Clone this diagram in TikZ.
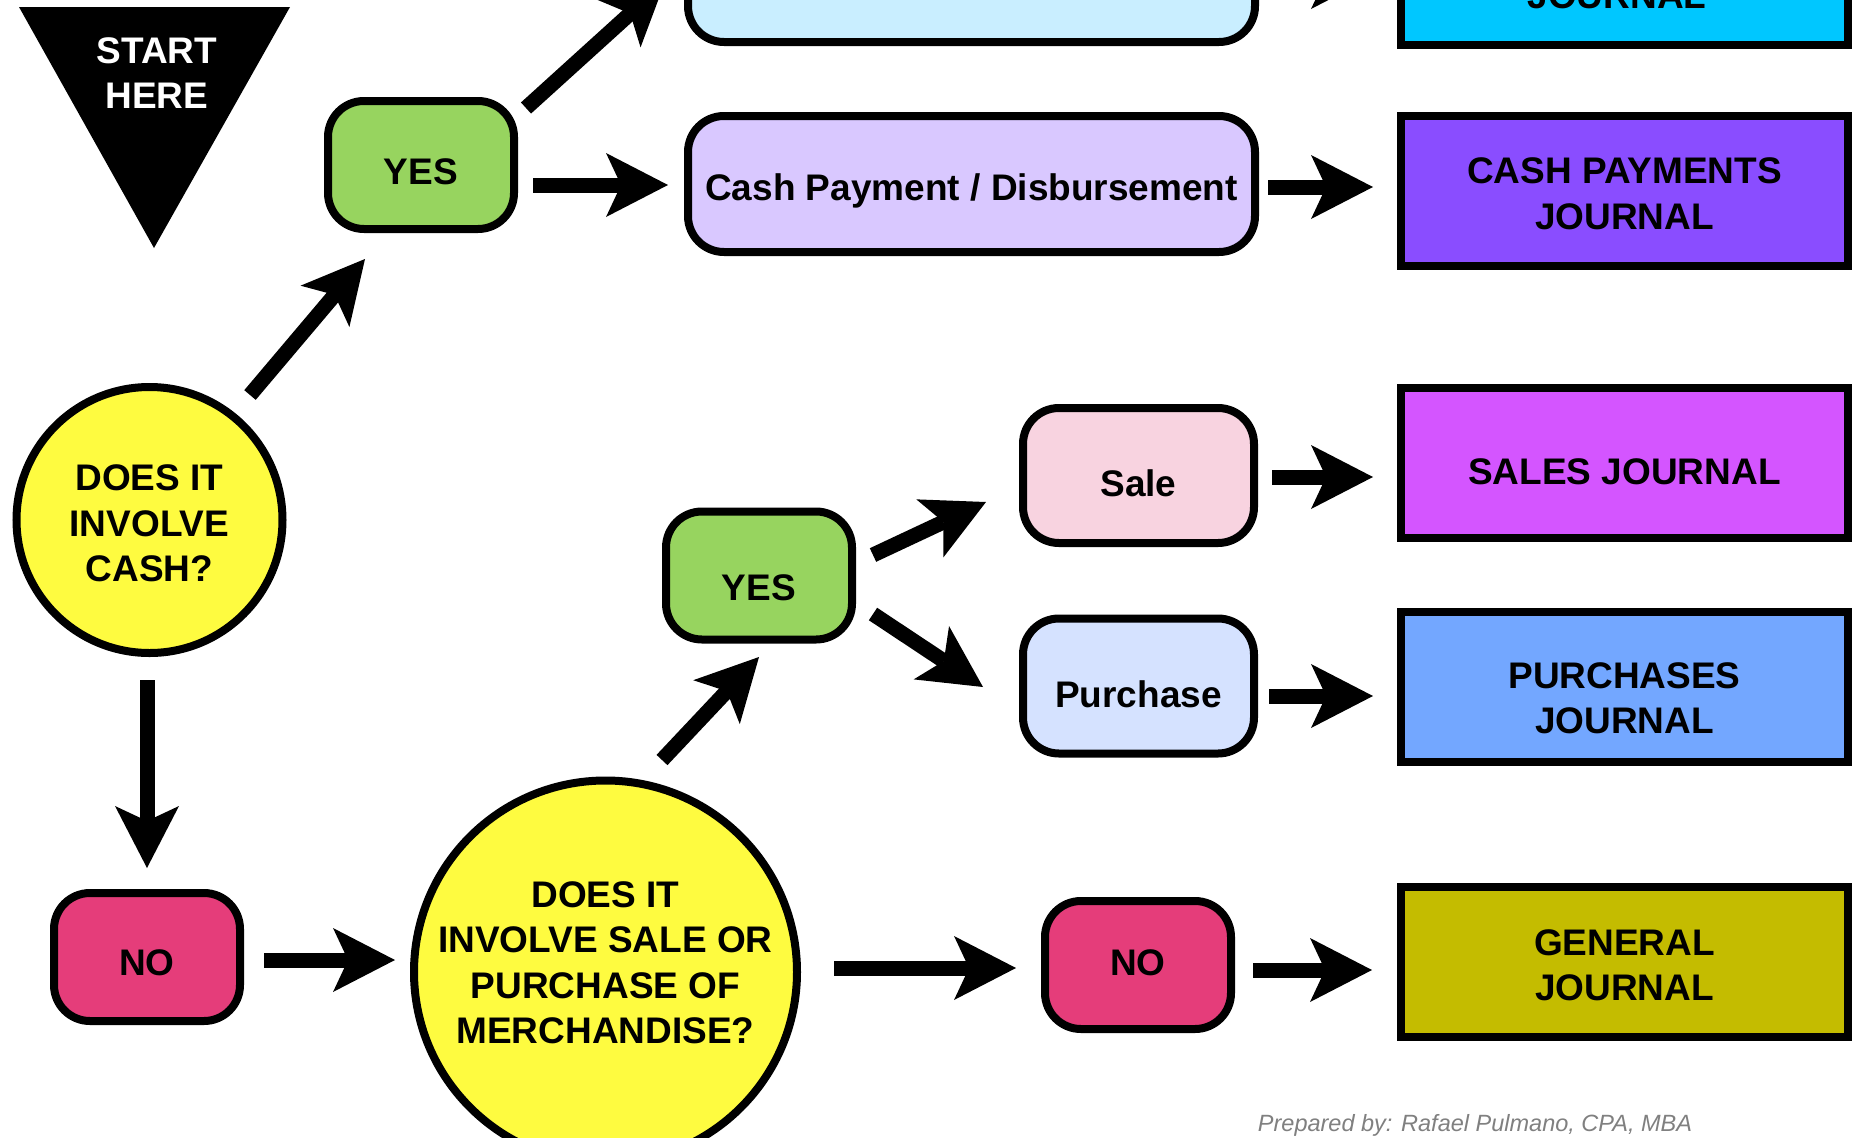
\documentclass[tikz,border=0pt]{standalone}
\usepackage{fontspec}
\setmainfont{Liberation Sans}
\usetikzlibrary{arrows.meta}
\definecolor{qyellow}{HTML}{FEFB40}
\definecolor{qgreen}{HTML}{97D45F}
\definecolor{qred}{HTML}{E53D7A}
\definecolor{qlav}{HTML}{D9C8FF}
\definecolor{qlblue}{HTML}{C9EEFF}
\definecolor{qpurple}{HTML}{8A4DFF}
\definecolor{qcyan}{HTML}{00C7FF}
\definecolor{qpink}{HTML}{F8D3E0}
\definecolor{qpblue}{HTML}{D5E2FF}
\definecolor{qmagenta}{HTML}{D455FF}
\definecolor{qblue}{HTML}{73A7FF}
\definecolor{qolive}{HTML}{C4BC00}
\newcommand{\hpad}[1]{\rule{0pt}{#1pt}}
\newcommand{\dpad}[1]{\rule[-#1pt]{0pt}{#1pt}}
\newcommand{\bigfont}{\fontsize{37}{45.5}\selectfont\bfseries}
\begin{document}
\begin{tikzpicture}[x=1pt,y=-1pt,
  every node/.style={align=center, inner sep=0pt, font=\bigfont},
  rbox/.style={draw=black, line width=8pt, rounded corners=36pt},
  smallbox/.style={rbox, minimum width=186pt, minimum height=128pt},
  midbox/.style={rbox, minimum width=231pt, minimum height=135pt},
  widebox/.style={rbox, minimum width=567pt, minimum height=136pt},
  jbox/.style={draw=black, line width=8pt, minimum width=447pt, minimum height=150pt},
  qcirc/.style={circle, draw=black, line width=8pt, fill=qyellow},
  arr/.style={line width=15pt, -{Stealth[length=62pt,width=64pt,inset=15pt,line width=0pt]}},
  credit/.style={font=\fontsize{23.5}{28}\selectfont\itshape, text=black!50}
]
\useasboundingbox (0,0) rectangle (1853,1138);
\clip (0,0) rectangle (1853,1138);
\fill[white] (0,0) rectangle (1853,1138);

% start triangle
\fill[black] (19,7) -- (290,7) -- (154,248) -- cycle;
\node[text=white] (start) at (157,73) {START\\HERE};

% decision circles
\node[qcirc, minimum size=266pt] (c1) at (149.5,520) {\hpad{33}DOES IT\\INVOLVE\\CASH?};
\node[qcirc, minimum size=383pt] (c2) at (605.5,972) {DOES IT\\INVOLVE SALE OR\\PURCHASE OF\\MERCHANDISE?\dpad{19}};

% yes / no boxes
\node[smallbox, fill=qgreen] (yes1) at (421,165) {\hpad{39}YES};
\node[smallbox, fill=qgreen] (yes2) at (759,575.5) {\hpad{51}YES};
\node[smallbox, fill=qred] (no1) at (147,957) {\hpad{38}NO};
\node[smallbox, fill=qred] (no2) at (1138,965) {NO\dpad{5}};

% transaction boxes
\node[widebox, fill=qlblue] (crc) at (971.5,-26) {};
\node[widebox, fill=qlav] (cp) at (971.5,184) {\hpad{40}Cash Payment / Disbursement};
\node[midbox, fill=qpink] (sale) at (1138.5,475.5) {\hpad{42}Sale};
\node[midbox, fill=qpblue] (purch) at (1138.5,686) {\hpad{43}Purchase};

% journals
\node[jbox, fill=qcyan] (crj) at (1624.5,-30) {};
\node[anchor=base] (crjt) at (1617,8) {JOURNAL};
\node[jbox, fill=qpurple] (cpj) at (1624.5,191) {\hpad{31}CASH PAYMENTS\\JOURNAL};
\node[jbox, fill=qmagenta] (sj) at (1624.5,463) {\hpad{44}SALES JOURNAL};
\node[jbox, fill=qblue] (pj) at (1624.5,687) {\hpad{48}PURCHASES\\JOURNAL};
\node[jbox, fill=qolive] (gj) at (1624.5,961.5) {\hpad{33}GENERAL\\JOURNAL};

% connectors
\draw[arr] ([shift={(100.5,-125)}]c1.center) -- ([shift={(-56,94)}]yes1.center);
\draw[arr] ([shift={(105,-57)}]yes1.center) -- ([shift={(-306.5,8)}]crc.center);
\draw[arr] ([shift={(112,20)}]yes1.center) -- ([shift={(-303.5,1)}]cp.center);
\draw[arr] ([shift={(296.5,3)}]cp.center) -- ([shift={(-251.5,-4)}]cpj.center);
\draw[arr] ([shift={(296.5,3)}]crc.center) -- ([shift={(-251.5,7)}]crj.center);
\draw[arr] ([shift={(-2.5,160)}]c1.center) -- ([shift={(0,-89)}]no1.center);
\draw[arr] ([shift={(117,3)}]no1.center) -- ([shift={(-210.5,-12)}]c2.center);
\draw[arr] ([shift={(56.5,-212)}]c2.center) -- ([shift={(0,81.5)}]yes2.center);
\draw[arr] ([shift={(114,-20.5)}]yes2.center) -- ([shift={(-152.5,26.5)}]sale.center);
\draw[arr] ([shift={(114,38.5)}]yes2.center) -- ([shift={(-155.5,1)}]purch.center);
\draw[arr] ([shift={(228.5,-4)}]c2.center) -- ([shift={(-122,3)}]no2.center);
\draw[arr] ([shift={(133.5,1.5)}]sale.center) -- ([shift={(-251.5,14)}]sj.center);
\draw[arr] ([shift={(130.5,10)}]purch.center) -- ([shift={(-251.5,9)}]pj.center);
\draw[arr] ([shift={(115,5)}]no2.center) -- ([shift={(-252.5,8.5)}]gj.center);

% credit
\node[credit, anchor=base] (prep) at (1475,1131) {Prepared by: Rafael Pulmano, CPA, MBA};
\end{tikzpicture}
\end{document}
